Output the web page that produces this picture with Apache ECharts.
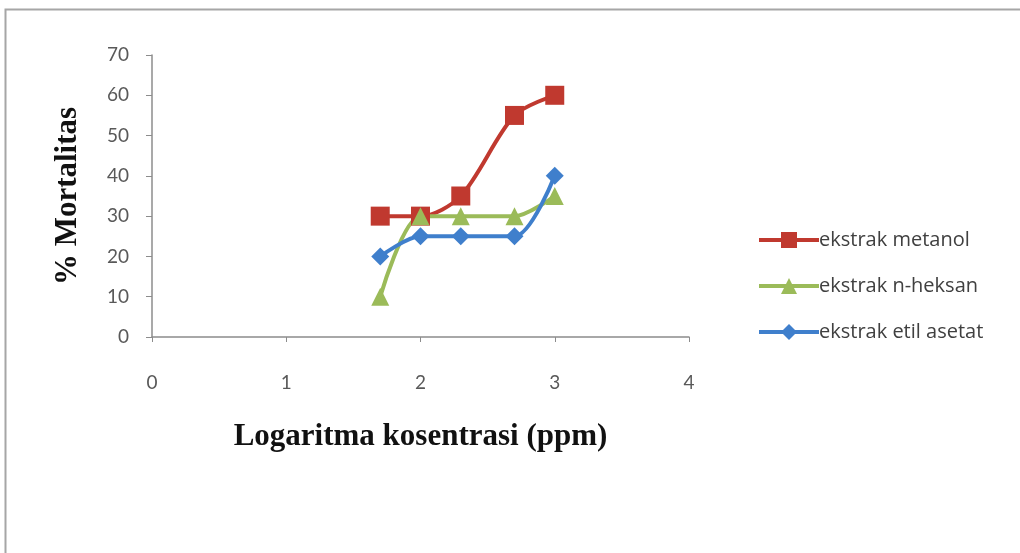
<!DOCTYPE html>
<html>
<head>
<meta charset="utf-8">
<script src="https://cdn.jsdelivr.net/npm/echarts@6/dist/echarts.min.js"></script>
<style>
  html, body { margin: 0; padding: 0; background: #fff; }
  #chart { width: 1020px; height: 553px; }
</style>
</head>
<body>
<div id="chart"></div>
<script>
// log konsentrasi (ppm)
const logKonsentrasi = [1.7, 2, 2.3, 2.7, 3]
const seriesNames = ['ekstrak metanol', 'ekstrak n-heksan', 'ekstrak etil asetat']
const metanol = [30, 30, 35, 55, 60]
const nHeksan = [10, 30, 30, 30, 35]
const etilAsetat = [20, 25, 25, 25, 40]
const seriesColors = ['#c0392f', '#9bbb59', '#3f7fcc']
const seriesSymbols = ['rect', 'triangle', 'diamond']

const chart = echarts.init(document.getElementById('chart'))

const toPoints = vals => vals.map((v, i) => [logKonsentrasi[i], v])
const allValues = [metanol, nHeksan, etilAsetat]

const option = {
  animation: false,
  graphic: [{
    type: 'rect',
    shape: { x: 5.5, y: 9.5, width: 1030, height: 560 },
    style: { fill: 'none', stroke: '#a6a6a6', lineWidth: 2 }
  }],
  grid: { left: 152, right: 331, top: 55, bottom: 216 },
  legend: {
    orient: 'vertical',
    left: 752,
    top: 225,
    itemGap: 26,
    itemWidth: 60,
    itemHeight: 20,
    lineStyle: { width: 4 },
    textStyle: { fontFamily: 'Open Sans', fontSize: 20, color: '#404040', padding: [0, 0, 0, -5] },
    data: seriesNames
  },
  xAxis: {
    type: 'value',
    min: 0,
    max: 4,
    interval: 1,
    name: 'Logaritma kosentrasi (ppm)',
    nameLocation: 'middle',
    nameGap: 84,
    nameTextStyle: { fontFamily: 'Liberation Serif', fontWeight: 'bold', fontSize: 31, color: '#111' },
    axisLine: { lineStyle: { color: '#8c8c8c', width: 1.5 } },
    axisTick: { show: true, length: 5, lineStyle: { color: '#8c8c8c' } },
    axisLabel: { margin: 36, fontFamily: 'Lato', fontSize: 19, color: '#595959' },
    splitLine: { show: false }
  },
  yAxis: {
    type: 'value',
    min: 0,
    max: 70,
    interval: 10,
    name: '% Mortalitas',
    nameLocation: 'middle',
    nameGap: 69,
    nameRotate: 90,
    nameTextStyle: { fontFamily: 'Liberation Serif', fontWeight: 'bold', fontSize: 31, color: '#111' },
    axisLine: { show: true, lineStyle: { color: '#8c8c8c', width: 1.5 } },
    axisTick: { show: true, length: 6, lineStyle: { color: '#8c8c8c' } },
    axisLabel: { margin: 23, fontFamily: 'Lato', fontSize: 19, color: '#595959' },
    splitLine: { show: false }
  },
  series: seriesNames.map((name, i) => ({
    name: name,
    type: 'line',
    data: toPoints(allValues[i]),
    smooth: 0.3,
    symbol: seriesSymbols[i],
    symbolSize: i === 2 ? 18 : (i === 1 ? 18 : 19),
    lineStyle: { width: 4, color: seriesColors[i] },
    itemStyle: { color: seriesColors[i] }
  }))
}

chart.setOption(option)
</script>
</body>
</html>
